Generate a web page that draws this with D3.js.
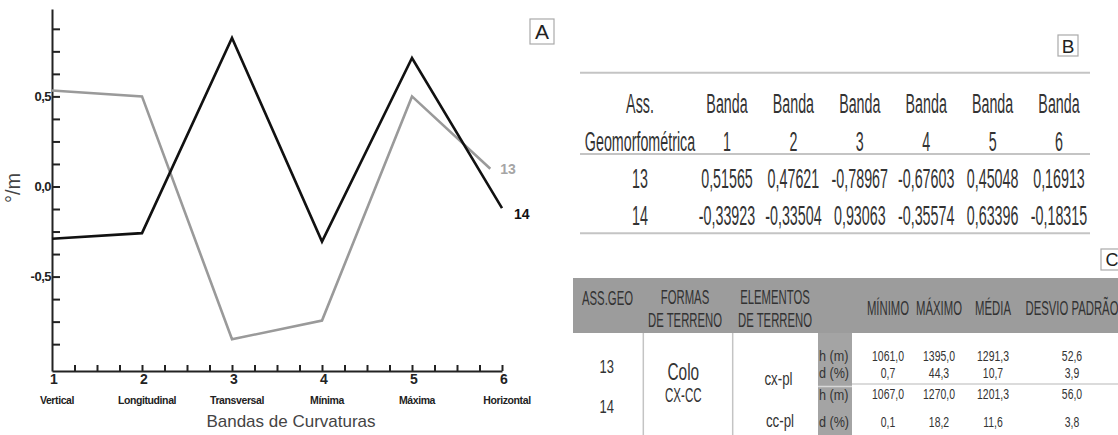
<!DOCTYPE html>
<html>
<head>
<meta charset="utf-8">
<script src="https://cdn.jsdelivr.net/npm/d3@7"></script>
<style>
html,body{margin:0;padding:0;background:#fff;}
svg{display:block;font-family:"Liberation Sans",Arial,sans-serif;}
</style>
</head>
<body>
<script>
// ---------- Chart A data ----------
const bands = [1, 2, 3, 4, 5, 6];
const bandNames = ["Vertical", "Longitudinal", "Transversal", "Mínima", "Máxima", "Horizontal"];
const pos13 = [1, 2, 3, 4, 5, 5.87];
const vals13 = [0.533, 0.50, -0.848, -0.744, 0.50, 0.098];
const pos14 = [1, 2, 3, 4, 5, 6];
const vals14 = [-0.29, -0.259, 0.824, -0.306, 0.713, -0.12];
const yTickLabels = [-0.5, 0, 0.5];
const seriesNames = ["13", "14"];

// ---------- Table B data ----------
const tbHeadLabel = ["Ass.", "Geomorfométrica"];
const tbBandWord = "Banda";
const tbRows = ["13", "14"];
const tb13 = [0.51565, 0.47621, -0.78967, -0.67603, 0.45048, 0.16913];
const tb14 = [-0.33923, -0.33504, 0.93063, -0.35574, 0.63396, -0.18315];

// ---------- Table C data ----------
const tcHead = [["ASS.GEO"], ["FORMAS", "DE TERRENO"], ["ELEMENTOS", "DE TERRENO"]];
const tcStatHead = ["MÍNIMO", "MÁXIMO", "MÉDIA", "DESVIO PADRÃO"];
const tcAss = ["13", "14"];
const tcForma = ["Colo", "CX-CC"];
const tcElem = ["cx-pl", "cc-pl"];
const tcUnits = ["h (m)", "d (%)"];
const tcH13 = [1061.0, 1395.0, 1291.3, 52.6];
const tcD13 = [0.7, 44.3, 10.7, 3.9];
const tcH14 = [1067.0, 1270.0, 1201.3, 56.0];
const tcD14 = [0.1, 18.2, 11.6, 3.8];

const W = 1118, H = 435;
const svg = d3.select("body").append("svg").attr("width", W).attr("height", H);
svg.append("rect").attr("width", W).attr("height", H).attr("fill", "#fff");

const comma = s => s.replace(".", ",").replace(/\u2212/g, "-");

// scaled text helper
function stext(x, y, s, size, sx, opts = {}) {
  const g = svg.append("g").attr("transform", `translate(${x},${y}) scale(${sx},1)`);
  return g.append("text").attr("x", 0).attr("y", 0)
    .attr("text-anchor", opts.anchor || "middle")
    .attr("font-size", size)
    .attr("font-weight", opts.weight || "normal")
    .attr("fill", opts.fill || "#333")
    .text(s);
}

// ================= Chart A =================
const x = d3.scaleLinear().domain([1, 6]).range([52, 502]);
const y = d3.scaleLinear().domain([-1.024, 0.985]).range([371, 9]);

const yAxis = d3.axisRight(y)
  .tickValues(d3.range(-0.875, 0.876, 0.125))
  .tickSize(8).tickSizeOuter(0).tickFormat("");
const gy = svg.append("g").attr("transform", "translate(52,0)").call(yAxis);
gy.selectAll("path,line").attr("stroke", "#222").attr("stroke-width", 2);

const xAxis = d3.axisTop(x)
  .tickValues(d3.range(1.25, 6.01, 0.25))
  .tickSize(6).tickSizeOuter(0).tickFormat("");
const gx = svg.append("g").attr("transform", "translate(0,371)").call(xAxis);
gx.selectAll("path,line").attr("stroke", "#222").attr("stroke-width", 2);

svg.selectAll("text.ytl").data(yTickLabels).enter().append("text")
  .attr("class", "ytl")
  .attr("x", 51).attr("y", d => y(d) + 4.5)
  .attr("text-anchor", "end").attr("font-size", 13).attr("font-weight", "bold")
  .attr("fill", "#222").attr("letter-spacing", -0.5)
  .text(d => comma(d3.format(".1f")(d)));

svg.selectAll("text.xnum").data(bands).enter().append("text")
  .attr("class", "xnum")
  .attr("x", d => x(d) + 2).attr("y", 384)
  .attr("text-anchor", "middle").attr("font-size", 14).attr("font-weight", "bold")
  .attr("fill", "#222").text(d => d);

svg.selectAll("text.xname").data(bandNames).enter().append("text")
  .attr("class", "xname")
  .attr("x", (d, i) => x(bands[i]) + 5).attr("y", 404)
  .attr("text-anchor", "middle").attr("font-size", 10.5).attr("font-weight", "bold")
  .attr("letter-spacing", -0.4)
  .attr("fill", "#222").text(d => d);

svg.append("text").attr("x", 291).attr("y", 427)
  .attr("text-anchor", "middle").attr("font-size", 17).attr("fill", "#444")
  .text("Bandas de Curvaturas");

svg.append("text").attr("transform", "translate(20,188) rotate(-90)")
  .attr("text-anchor", "middle").attr("font-size", 20).attr("fill", "#444")
  .text("°/m");

const line = d3.line().x(d => x(d[0])).y(d => y(d[1]));
svg.append("path").datum(pos13.map((p, i) => [p, vals13[i]]))
  .attr("d", line).attr("fill", "none").attr("stroke", "#9a9a9a").attr("stroke-width", 2.6)
  .attr("stroke-linejoin", "miter");
svg.append("path").datum(pos14.map((p, i) => [p, vals14[i]]))
  .attr("d", line).attr("fill", "none").attr("stroke", "#111").attr("stroke-width", 2.6)
  .attr("stroke-linejoin", "miter");

svg.append("text").attr("x", x(pos13[5]) + 10).attr("y", y(vals13[5]) + 5)
  .attr("font-size", 14).attr("font-weight", "bold").attr("fill", "#a5a5a5").text(seriesNames[0]);
svg.append("text").attr("x", x(pos14[5]) + 12).attr("y", y(vals14[5]) + 11)
  .attr("font-size", 14).attr("font-weight", "bold").attr("fill", "#111").text(seriesNames[1]);

// Box A
svg.append("rect").attr("x", 530).attr("y", 19).attr("width", 24).attr("height", 25)
  .attr("fill", "#fff").attr("stroke", "#aaa").attr("stroke-width", 1.2);
svg.append("text").attr("x", 542).attr("y", 39).attr("text-anchor", "middle")
  .attr("font-size", 21).attr("fill", "#222").text("A");

// ================= Table B =================
const bLabelX = 640;
const bCol = d3.scaleLinear().domain([1, 6]).range([727, 1059]);
const bSize = 28, bSx = 0.51;
const bRowY = [113, 150.5, 187.5, 225];
[72.7, 154, 233.3].forEach(yy => {
  svg.append("line").attr("x1", 580).attr("x2", 1090).attr("y1", yy).attr("y2", yy)
    .attr("stroke", "#c4c4c4").attr("stroke-width", 2);
});
stext(bLabelX, bRowY[0], tbHeadLabel[0], bSize, bSx);
stext(bLabelX, bRowY[1], tbHeadLabel[1], bSize, bSx);
bands.forEach(b => {
  stext(bCol(b), bRowY[0], tbBandWord, bSize, bSx);
  stext(bCol(b), bRowY[1], String(b), bSize, bSx);
});
[tb13, tb14].forEach((row, r) => {
  stext(bLabelX, bRowY[2 + r], tbRows[r], bSize, bSx);
  row.forEach((v, i) => stext(bCol(bands[i]), bRowY[2 + r], comma(d3.format(".5f")(v)), bSize, bSx));
});
svg.append("rect").attr("x", 1058).attr("y", 35).attr("width", 20).attr("height", 21)
  .attr("fill", "#fff").attr("stroke", "#aaa").attr("stroke-width", 1.2);
svg.append("text").attr("x", 1068).attr("y", 53).attr("text-anchor", "middle")
  .attr("font-size", 19).attr("fill", "#222").text("B");

// ================= Table C =================
svg.append("rect").attr("x", 573).attr("y", 278).attr("width", W - 573).attr("height", 55)
  .attr("fill", "#9c9c9c");
const cHeadX = [607.5, 685, 775];
const hSize = 21, hSx = 0.54;
tcHead.forEach((lines, i) => {
  if (lines.length === 1) stext(cHeadX[i], 305, lines[0], hSize, hSx);
  else { stext(cHeadX[i], 304, lines[0], hSize, hSx); stext(cHeadX[i], 326.5, lines[1], hSize, hSx); }
});
const cStatX = [888, 939, 993, 1072];
tcStatHead.forEach((s, i) => stext(cStatX[i], 315, s, hSize, hSx));

// body grid
[643.3, 732.7].forEach(xx => {
  svg.append("line").attr("x1", xx).attr("x2", xx).attr("y1", 333).attr("y2", H)
    .attr("stroke", "#c4c4c4").attr("stroke-width", 1.5);
});
svg.append("rect").attr("x", 818).attr("y", 333).attr("width", 34).attr("height", H - 333)
  .attr("fill", "#a4a4a4");
svg.append("line").attr("x1", 818).attr("x2", 852).attr("y1", 386.5).attr("y2", 386.5)
  .attr("stroke", "#d8d8d8").attr("stroke-width", 1.5);
svg.append("line").attr("x1", 852).attr("x2", W).attr("y1", 384).attr("y2", 384)
  .attr("stroke", "#cfcfcf").attr("stroke-width", 1.5);

stext(606.7, 373.3, tcAss[0], 18, 0.72);
stext(606.7, 413.3, tcAss[1], 18, 0.72);
stext(683.3, 380, tcForma[0], 23, 0.67);
stext(683.3, 401.7, tcForma[1], 21, 0.55);
stext(778.5, 385, tcElem[0], 18, 0.74);
stext(780, 426.7, tcElem[1], 18, 0.74);

const uY = [[361, 378], [400, 427]];
uY.forEach(pair => {
  stext(819, pair[0], tcUnits[0], 14, 0.9, { anchor: "start" });
  stext(819, pair[1], tcUnits[1], 14, 0.9, { anchor: "start" });
});
const fmt1 = v => comma(d3.format(".1f")(v));
const vSize = 14.5, vSx = 0.72;
tcH13.forEach((v, i) => stext(cStatX[i], 361, fmt1(v), vSize, vSx));
tcD13.forEach((v, i) => stext(cStatX[i], 378, fmt1(v), vSize, vSx));
tcH14.forEach((v, i) => stext(cStatX[i], 398.5, fmt1(v), vSize, vSx));
tcD14.forEach((v, i) => stext(cStatX[i], 427, fmt1(v), vSize, vSx));

svg.append("rect").attr("x", 1101).attr("y", 249).attr("width", 22).attr("height", 21)
  .attr("fill", "#fff").attr("stroke", "#aaa").attr("stroke-width", 1.2);
svg.append("text").attr("x", 1112).attr("y", 266).attr("text-anchor", "middle")
  .attr("font-size", 18).attr("fill", "#222").text("C");
</script>
</body>
</html>
